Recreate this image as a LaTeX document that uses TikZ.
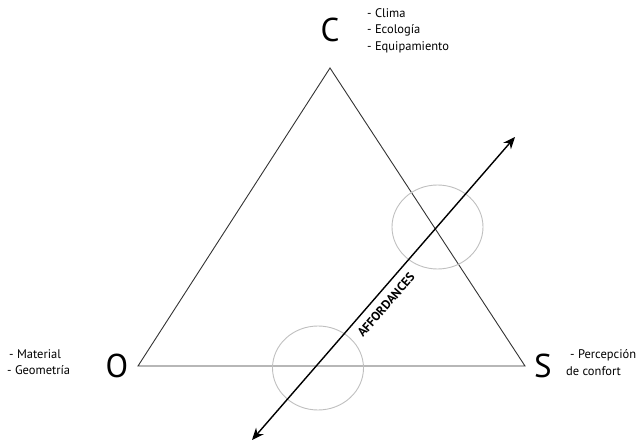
\documentclass[tikz,border=0pt]{standalone}
\usepackage{fontspec}
\setmainfont{PT Sans}
\usetikzlibrary{arrows.meta,shapes.geometric}
\begin{document}
\begin{tikzpicture}[x=1pt,y=-1pt,
  vlabel/.style={font=\fontsize{33}{36}\selectfont, inner sep=0pt},
  notes/.style={font=\fontsize{12.5}{16.8}\selectfont, align=left, inner sep=0pt},
  tri/.style={draw=black!80, line width=0.9pt},
  ring/.style={draw=black!25, line width=0.9pt, ellipse, inner sep=0pt, minimum width=91pt, minimum height=84pt},
  axis/.style={draw=black, line width=1.4pt, {Stealth[length=12pt,width=10pt]}-{Stealth[length=12pt,width=10pt]}}]
\useasboundingbox (0,0) rectangle (642,443);
\coordinate (c) at (330,68);
\coordinate (o) at (138,366);
\coordinate (s) at (525,366);
\draw[tri] (c) -- (o) -- (s) -- cycle;
\node[ring] (r1) at (437.5,227) {};
\node[ring] (r2) at (318,368) {};
\coordinate (a1) at (252,440);
\coordinate (a2) at (515,137);
\draw[axis] (a1) -- (a2);
\node[font=\fontsize{12.5}{13}\selectfont\bfseries, rotate=49, inner sep=0pt] (aff) at (386,305) {AFFORDANCES};
\node[vlabel] (lc) at (330,30) {C};
\node[vlabel] (lo) at (117,366) {O};
\node[vlabel] (ls) at (543,366) {S};
\node[notes, anchor=north west] (nc) at (367,8) {- Clima\\- Ecología\\- Equipamiento};
\node[notes, anchor=north west] (no) at (7,349) {\hspace*{2pt}- Material\\- Geometría};
\node[notes, anchor=north west] (ns) at (566,349) {\hspace*{4pt}- Percepción\\de confort};
\end{tikzpicture}
\end{document}
